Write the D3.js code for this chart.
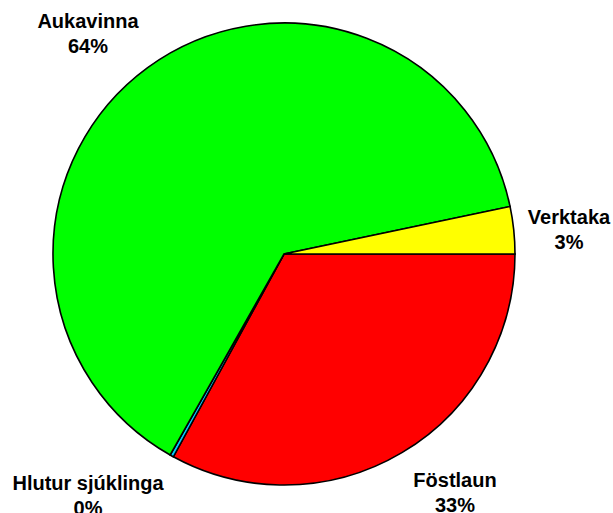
<!DOCTYPE html>
<html>
<head>
<meta charset="utf-8">
<script src="https://cdn.jsdelivr.net/npm/d3@7"></script>
<style>
  body { margin: 0; background: #ffffff; }
  .pie-label { font-family: "Liberation Sans", Arial, sans-serif; font-weight: bold; font-size: 20px; fill: #000; }
</style>
</head>
<body>
<div id="chart"></div>
<script>

// slices, clockwise from 3 o'clock
var categories = ["Föstlaun", "Hlutur sjúklinga", "Aukavinna", "Verktaka"];
var shares     = [32.95, 0.25, 63.5, 3.3];
var colors     = ["#ff0000", "#00ccff", "#00ff00", "#ffff00"];

// label anchor (centre x, first baseline y) for each slice
var labelPos = [[455, 487], [88, 490], [88, 28], [569, 224]];

var size = {'w': 613, 'h': 513};
var center = {'x': 284, 'y': 254};
var radius = 231;

var svg = d3.select("#chart")
        .append("svg")
        .attr("width", size.w)
        .attr("height", size.h);

var pie = d3.pie()
            .sort(null)
            .startAngle(Math.PI / 2)
            .endAngle(Math.PI / 2 + 2 * Math.PI)
            .value(function(d) { return d; });

var arc = d3.arc().innerRadius(0).outerRadius(radius);

var g = svg.append("g")
           .attr("transform", "translate(" + center.x + "," + center.y + ")");

g.selectAll(".slice")
  .data(pie(shares))
  .enter().append("path")
  .attr("class", "slice")
  .attr("d", arc)
  .attr("fill", function(d, i) { return colors[i]; })
  .attr("stroke", "#000")
  .attr("stroke-width", 1.6)
  .attr("stroke-linejoin", "miter");

var labels = svg.selectAll(".pie-label")
  .data(categories)
  .enter().append("text")
  .attr("class", "pie-label")
  .attr("text-anchor", "middle")
  .attr("x", function(d, i) { return labelPos[i][0]; })
  .attr("y", function(d, i) { return labelPos[i][1]; });

labels.append("tspan")
  .attr("x", function(d, i) { return labelPos[i][0]; })
  .text(function(d) { return d; });

labels.append("tspan")
  .attr("x", function(d, i) { return labelPos[i][0]; })
  .attr("dy", 25)
  .text(function(d, i) { return Math.round(shares[i]) + "%"; });

</script>
</body>
</html>
